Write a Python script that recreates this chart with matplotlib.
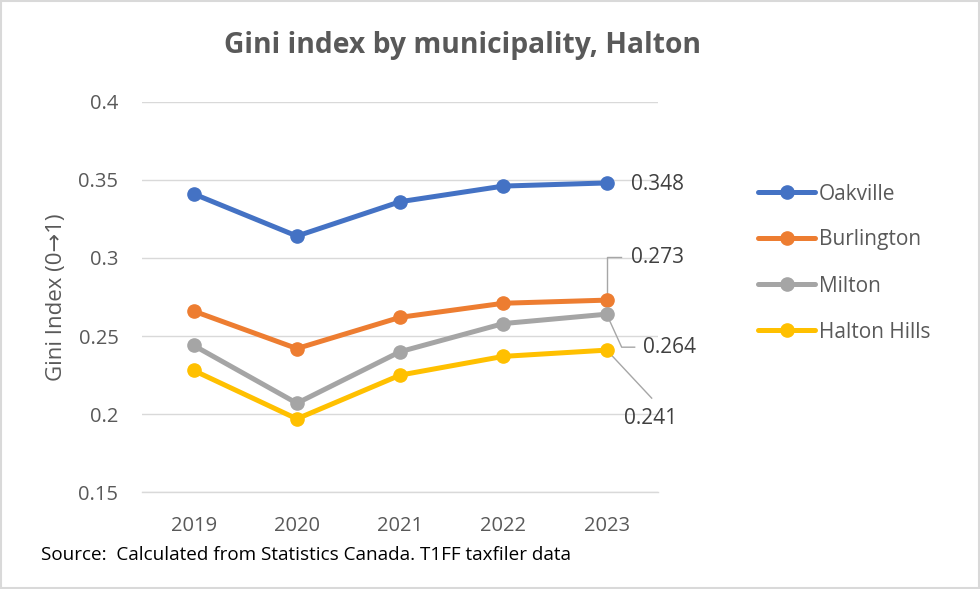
import matplotlib
matplotlib.use('Agg')
import matplotlib.pyplot as plt
from matplotlib.patches import Rectangle

# data
years = ['2019', '2020', '2021', '2022', '2023']
oakville = [0.341, 0.314, 0.336, 0.346, 0.348]
burlington = [0.266, 0.242, 0.262, 0.271, 0.273]
milton = [0.244, 0.207, 0.240, 0.258, 0.264]
halton_hills = [0.228, 0.197, 0.225, 0.237, 0.241]

series = [('Oakville', oakville, '#4472C4'),
          ('Burlington', burlington, '#ED7D31'),
          ('Milton', milton, '#A5A5A5'),
          ('Halton Hills', halton_hills, '#FFC000')]

plt.rcParams['font.family'] = ['Open Sans', 'DejaVu Sans']
grey_txt = '#595959'

fig = plt.figure(figsize=(9.8, 5.89), dpi=100)
ax = fig.add_axes([142/980, 1-492.3/589, (658.3-142)/980, (492.3-101.7)/589])

x = list(range(len(years)))
for name, vals, col in series:
    ax.plot(x, vals, color=col, lw=3.6, marker='o', ms=9.5, label=name,
            solid_capstyle='round', zorder=3)

ax.set_xlim(-0.5, len(years)-0.5)
ax.set_ylim(0.15, 0.4)
ax.set_yticks([0.15, 0.2, 0.25, 0.3, 0.35, 0.4])
ax.set_yticklabels(['0.15', '0.2', '0.25', '0.3', '0.35', '0.4'])
ax.set_xticks(x)
ax.set_xticklabels(years)
ax.tick_params(length=0, labelsize=14.5, labelcolor=grey_txt)
ax.tick_params(axis='y', pad=17)
ax.tick_params(axis='x', pad=17)
ax.grid(axis='y', color='#D9D9D9', lw=1)
ax.set_axisbelow(True)
for s in ['top', 'right', 'left']:
    ax.spines[s].set_visible(False)
ax.spines['bottom'].set_color('#D9D9D9')
ax.spines['bottom'].set_linewidth(1)

ax.set_ylabel('Gini Index (0\u21921)', fontsize=16, color=grey_txt, labelpad=8)

fig.text(462/980, 1-45/589, 'Gini index by municipality, Halton', ha='center',
         va='center', fontsize=20.3, fontweight='bold', color=grey_txt)
fig.text(41/980, 1-555/589, 'Source:  Calculated from Statistics Canada. T1FF taxfiler data',
         ha='left', va='center', fontsize=13.6, color='#000000')

# data labels for the last year, offsets in pixels (right, down)
inv = ax.transData.inverted()
def px(xv, yv, dx, dy):
    X, Y = ax.transData.transform((xv, yv))
    return inv.transform((X + dx, Y - dy))

last = len(years) - 1
labels = [
    (oakville[-1], (24, 2), 'left', []),
    (burlington[-1], (24, -43), 'left', [(0, 0), (0, -43), (14, -43)]),
    (milton[-1], (36, 33), 'left', [(0, 0), (15, 33), (28, 33)]),
    (halton_hills[-1], (44, 68), 'center', [(2, 2), (45, 48)]),
]
for val, (dx, dy), ha, path in labels:
    tx, ty = px(last, val, dx, dy)
    ax.text(tx, ty, '%.3f' % val, ha=ha, va='center', fontsize=15,
            color='#404040', clip_on=False)
    if path:
        pts = [px(last, val, a, b) for a, b in path]
        ax.plot([p[0] for p in pts], [p[1] for p in pts], color='#A6A6A6',
                lw=1, clip_on=False, zorder=2)

leg = ax.legend(loc='upper left', bbox_to_anchor=(758/980, 1-183.5/589),
                bbox_transform=fig.transFigure, frameon=False, fontsize=15,
                handlelength=2.74, handletextpad=0.2, labelspacing=1.2,
                borderaxespad=0, borderpad=0)
for t in leg.get_texts():
    t.set_color(grey_txt)

fig.patches.append(Rectangle((0.001, 0.001), 0.998, 0.998, transform=fig.transFigure,
                             fill=False, edgecolor='#D9D9D9', lw=1.5))

fig.savefig('out.png', dpi=100)
